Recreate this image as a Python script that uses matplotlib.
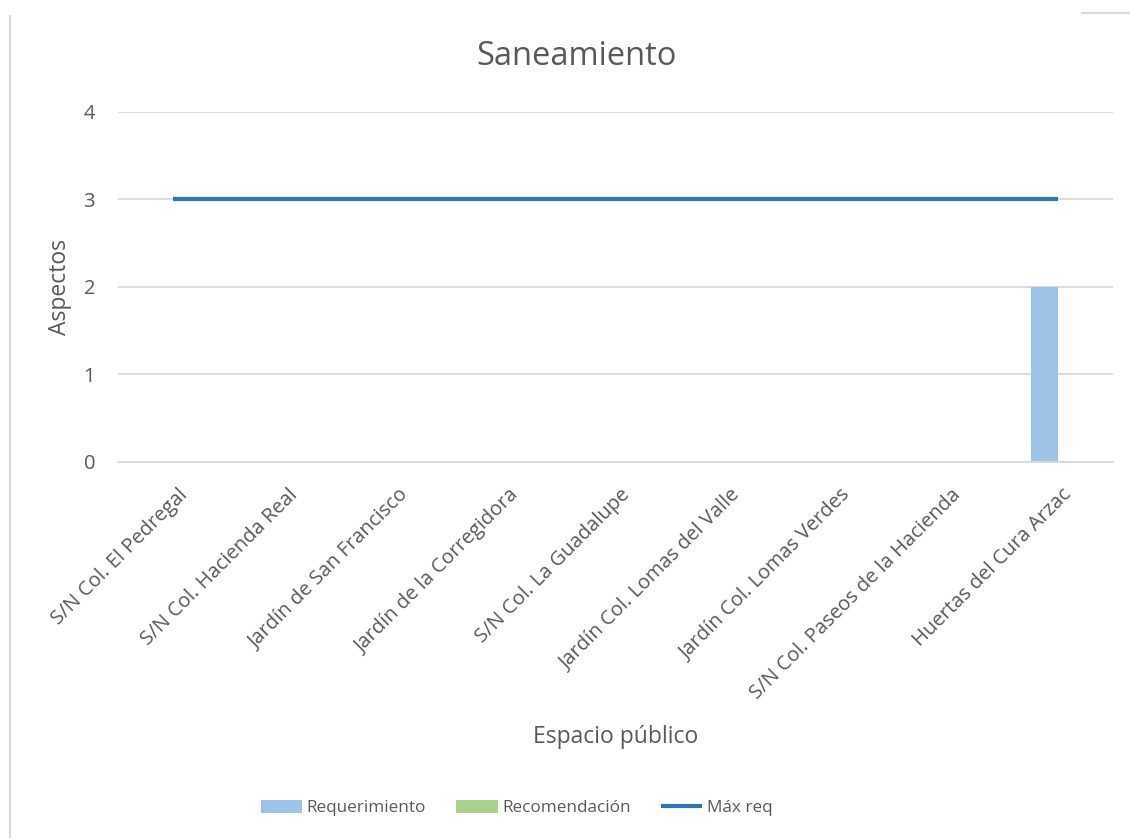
import numpy as np
import matplotlib
matplotlib.use('Agg')
import matplotlib.pyplot as plt
import matplotlib.transforms as mtransforms
from matplotlib.lines import Line2D

plt.rcParams['font.family'] = ['Open Sans', 'DejaVu Sans']

# Data
categories = ['S/N Col. El Pedregal', 'S/N Col. Hacienda Real', 'Jardín de San Francisco',
              'Jardín de la Corregidora', 'S/N Col. La Guadalupe', 'Jardín Col. Lomas del Valle',
              'Jardín Col. Lomas Verdes', 'S/N Col. Paseos de la Hacienda', 'Huertas del Cura Arzac']
requerimiento = [0, 0, 0, 0, 0, 0, 0, 0, 2]
recomendacion = [0, 0, 0, 0, 0, 0, 0, 0, 0]
max_req = [3, 3, 3, 3, 3, 3, 3, 3, 3]
y_ticks = [0, 1, 2, 3, 4]

text_color = '#595959'
grid_color = '#D9D9D9'

fig = plt.figure(figsize=(11.3, 8.38), dpi=100)
ax = fig.add_axes([0.1044, 0.4487, 0.8805, 0.4177])

x = np.arange(len(categories))
w = 0.245
ax.bar(x - w / 2, requerimiento, w, color='#9DC3E6', label='Requerimiento', zorder=2)
ax.bar(x + w / 2, recomendacion, w, color='#A9D18E', label='Recomendación', zorder=2)
ax.plot(x, max_req, color='#2E75B6', linewidth=3, label='Máx req', zorder=3,
        solid_capstyle='butt')

ax.set_xlim(-0.5, len(categories) - 0.5)
ax.set_ylim(0, 4)
ax.set_yticks(y_ticks)
ax.yaxis.grid(True, color=grid_color, linewidth=1.3, zorder=0)
ax.set_axisbelow(True)
for s in ['top', 'right', 'left']:
    ax.spines[s].set_visible(False)
ax.spines['bottom'].set_color(grid_color)
ax.spines['bottom'].set_linewidth(1.3)
ax.tick_params(axis='both', length=0, colors=text_color, labelsize=14.5)
ax.tick_params(axis='y', pad=16.5)
ax.set_xticks(x)
ax.set_xticklabels(categories, rotation=45, ha='right', rotation_mode='anchor')
ax.tick_params(axis='x', pad=16.5)
shift = mtransforms.ScaledTranslation(4 / 100, 0, fig.dpi_scale_trans)
for lab in ax.get_xticklabels():
    lab.set_transform(lab.get_transform() + shift)

ax.set_ylabel('Aspectos', fontsize=16.5, color=text_color, labelpad=8)
fig.text(0.5445, 0.121, 'Espacio público', ha='center', va='center', fontsize=16.5, color=text_color)
fig.text(0.51, 0.932, 'Saneamiento', ha='center', va='center', fontsize=23.5, color=text_color)

handles, labels = ax.get_legend_handles_labels()
order = [1, 2, 0]
leg = fig.legend([handles[i] for i in order], [labels[i] for i in order],
                 loc='center', bbox_to_anchor=(0.457, 0.036), ncol=3, frameon=False,
                 fontsize=12.3, handlelength=2.45, handleheight=0.82, handletextpad=0.25,
                 columnspacing=1.75, labelcolor=text_color)

# chart frame remnants
fig.add_artist(Line2D([10 / 1130, 10 / 1130], [0, 1 - 16 / 838], color='#D9D9D9', linewidth=1.5))
fig.add_artist(Line2D([1082 / 1130, 1], [1 - 13 / 838, 1 - 13 / 838], color='#D9D9D9', linewidth=1.5))

fig.savefig('out.png', dpi=100)
